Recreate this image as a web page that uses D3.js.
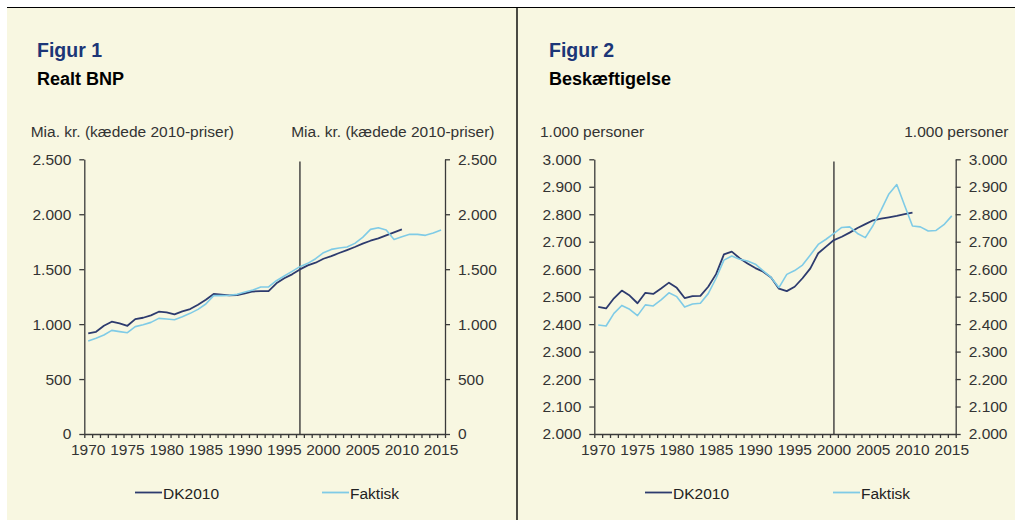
<!DOCTYPE html>
<html>
<head>
<meta charset="utf-8">
<script src="https://cdn.jsdelivr.net/npm/d3@7"></script>
<style>
  body { margin: 0; background: #fff; }
  svg { display: block; font-family: "Liberation Sans", Arial, sans-serif; }
</style>
</head>
<body>
<svg id="chart" width="1015" height="520"></svg>
<script>
// years on the category axis
const years = d3.range(1970, 2016);
const labelYears = [1970, 1975, 1980, 1985, 1990, 1995, 2000, 2005, 2010, 2015];

// Figur 1 - Realt BNP (mia. kr.)
const gdpDK2010 = [916, 930, 985, 1022, 1007, 985, 1046, 1058, 1080, 1113, 1107, 1089, 1116, 1137, 1177, 1222,
  1274, 1268, 1262, 1265, 1280, 1297, 1300, 1300, 1371, 1417, 1453, 1498, 1535, 1559, 1595,
  1619, 1647, 1674, 1702, 1732, 1759, 1780, 1808, 1835, 1862];
const gdpFaktisk = [846, 871, 901, 943, 932, 922, 977, 995, 1016, 1052, 1046, 1040, 1068, 1098, 1134, 1183,
  1259, 1259, 1262, 1271, 1292, 1310, 1338, 1338, 1395, 1438, 1480, 1523, 1553, 1595, 1650,
  1680, 1693, 1702, 1735, 1790, 1862, 1877, 1856, 1771, 1796, 1817, 1817, 1808, 1829, 1856];
const gdpTicks = [0, 500, 1000, 1500, 2000, 2500];

// Figur 2 - Beskæftigelse (1.000 personer)
const empDK2010 = [2463, 2457, 2494, 2522, 2504, 2476, 2514, 2510, 2530, 2551, 2532, 2495, 2502, 2503, 2536, 2582,
  2654, 2664, 2640, 2621, 2604, 2591, 2570, 2529, 2520, 2536, 2567, 2603, 2658, 2682, 2706,
  2718, 2733, 2750, 2764, 2778, 2784, 2789, 2794, 2800, 2806];
const empFaktisk = [2397, 2393, 2439, 2468, 2454, 2431, 2470, 2466, 2488, 2514, 2500, 2462, 2473, 2476, 2511, 2567,
  2633, 2648, 2636, 2630, 2618, 2594, 2570, 2533, 2581, 2595, 2615, 2652, 2690, 2709, 2730,
  2752, 2754, 2730, 2715, 2760, 2815, 2874, 2908, 2832, 2757, 2754, 2739, 2741, 2762, 2794];
const empTicks = [2000, 2100, 2200, 2300, 2400, 2500, 2600, 2700, 2800, 2900, 3000];

const seriesNames = ["DK2010", "Faktisk"];
const colors = { "DK2010": "#2d3b6e", "Faktisk": "#7fcbe6" };

const daLocale = d3.formatLocale({ decimal: ",", thousands: ".", grouping: [3], currency: ["", " kr."] });
const fmt = daLocale.format(",d");

const svg = d3.select("#chart");

// frame: beige panels with black rules
svg.append("rect").attr("x", 7).attr("y", 7).attr("width", 1008).attr("height", 513).attr("fill", "#f8f7e1");
svg.append("line").attr("x1", 7).attr("x2", 1015).attr("y1", 7.5).attr("y2", 7.5)
  .attr("stroke", "#000").attr("stroke-width", 1.2);
svg.append("line").attr("x1", 517).attr("x2", 517).attr("y1", 7).attr("y2", 520)
  .attr("stroke", "#000").attr("stroke-width", 1.4);

function drawPanel(opts) {
  const top = 159.3, bottom = 434;

  const x = d3.scaleBand().domain(years).range([opts.left, opts.right]);
  // boundary positions for the small ticks between years
  const xb = d3.scaleLinear().domain([0, years.length]).range([opts.left, opts.right]);
  const y = d3.scaleLinear().domain(opts.domain).range([bottom, top]);
  const cx = yr => x(yr) + x.bandwidth() / 2;

  // titles
  svg.append("text").attr("x", opts.titleX).attr("y", 57)
    .style("font-size", "19.5px").style("font-weight", "bold").attr("fill", "#1c3677")
    .text(opts.figur);
  svg.append("text").attr("x", opts.titleX).attr("y", 84.5)
    .style("font-size", "18px").style("font-weight", "bold").attr("fill", "#000")
    .text(opts.title);

  // unit labels
  svg.append("text").attr("x", opts.unitLeftX).attr("y", 137)
    .style("font-size", "15.5px").attr("fill", "#333").text(opts.unit);
  svg.append("text").attr("x", opts.unitRightX).attr("y", 137).attr("text-anchor", "end")
    .style("font-size", "15.5px").attr("fill", "#333").text(opts.unit);

  // y axes
  const yl = svg.append("g").attr("transform", `translate(${opts.left},0)`)
    .call(d3.axisLeft(y).tickValues(opts.ticks).tickFormat(fmt).tickSize(5).tickPadding(8).tickSizeOuter(0));
  const yr = svg.append("g").attr("transform", `translate(${opts.right},0)`)
    .call(d3.axisRight(y).tickValues(opts.ticks).tickFormat(fmt).tickSize(5).tickPadding(8).tickSizeOuter(0));

  // x axis: ticks between years, labels every 5 years
  const xa = svg.append("g").attr("transform", `translate(0,${bottom})`)
    .call(d3.axisBottom(xb).tickValues(d3.range(0, years.length + 1)).tickFormat("").tickSize(4).tickSizeOuter(0));
  const xl = svg.append("g").attr("transform", `translate(0,${bottom})`)
    .call(d3.axisBottom(x).tickValues(labelYears).tickSize(0).tickPadding(10));
  xl.select(".domain").remove();

  [yl, yr, xa, xl].forEach(g => {
    g.selectAll("text").style("font-size", "15.5px").attr("fill", "#333")
      .style("font-family", "'Liberation Sans', Arial, sans-serif");
    g.selectAll("line, path").attr("stroke", "#3a3a3a").attr("stroke-width", 1.3);
  });

  // vertical marker line
  svg.append("line").attr("x1", cx(opts.marker)).attr("x2", cx(opts.marker))
    .attr("y1", 161.5).attr("y2", bottom).attr("stroke", "#3a3a3a").attr("stroke-width", 1.4);

  // series
  const line = d3.line().x(d => cx(d.year)).y(d => y(d.value));
  opts.series.forEach((vals, i) => {
    const pts = vals.map((v, j) => ({ year: years[j], value: v }));
    svg.append("path").datum(pts).attr("d", line)
      .attr("fill", "none").attr("stroke", colors[seriesNames[i]])
      .attr("stroke-width", i === 0 ? 1.8 : 1.6).attr("stroke-linejoin", "round");
  });

  // legend
  seriesNames.forEach((name, i) => {
    const lx = opts.legendX[i];
    svg.append("line").attr("x1", lx).attr("x2", lx + 27).attr("y1", 492.5).attr("y2", 492.5)
      .attr("stroke", colors[name]).attr("stroke-width", 1.8);
    svg.append("text").attr("x", lx + 28).attr("y", 499)
      .style("font-size", "15.5px").attr("fill", "#222").text(name);
  });
}

drawPanel({
  left: 84.3, right: 445, domain: [0, 2500], ticks: gdpTicks,
  titleX: 37, figur: "Figur 1", title: "Realt BNP",
  unit: "Mia. kr. (kædede 2010-priser)", unitLeftX: 30.7, unitRightX: 494.5,
  marker: 1997, series: [gdpDK2010, gdpFaktisk], legendX: [135, 322]
});

drawPanel({
  left: 594.3, right: 955.7, domain: [2000, 3000], ticks: empTicks,
  titleX: 549, figur: "Figur 2", title: "Beskæftigelse",
  unit: "1.000 personer", unitLeftX: 540, unitRightX: 1008.5,
  marker: 2000, series: [empDK2010, empFaktisk], legendX: [645, 833]
});
</script>
</body>
</html>
